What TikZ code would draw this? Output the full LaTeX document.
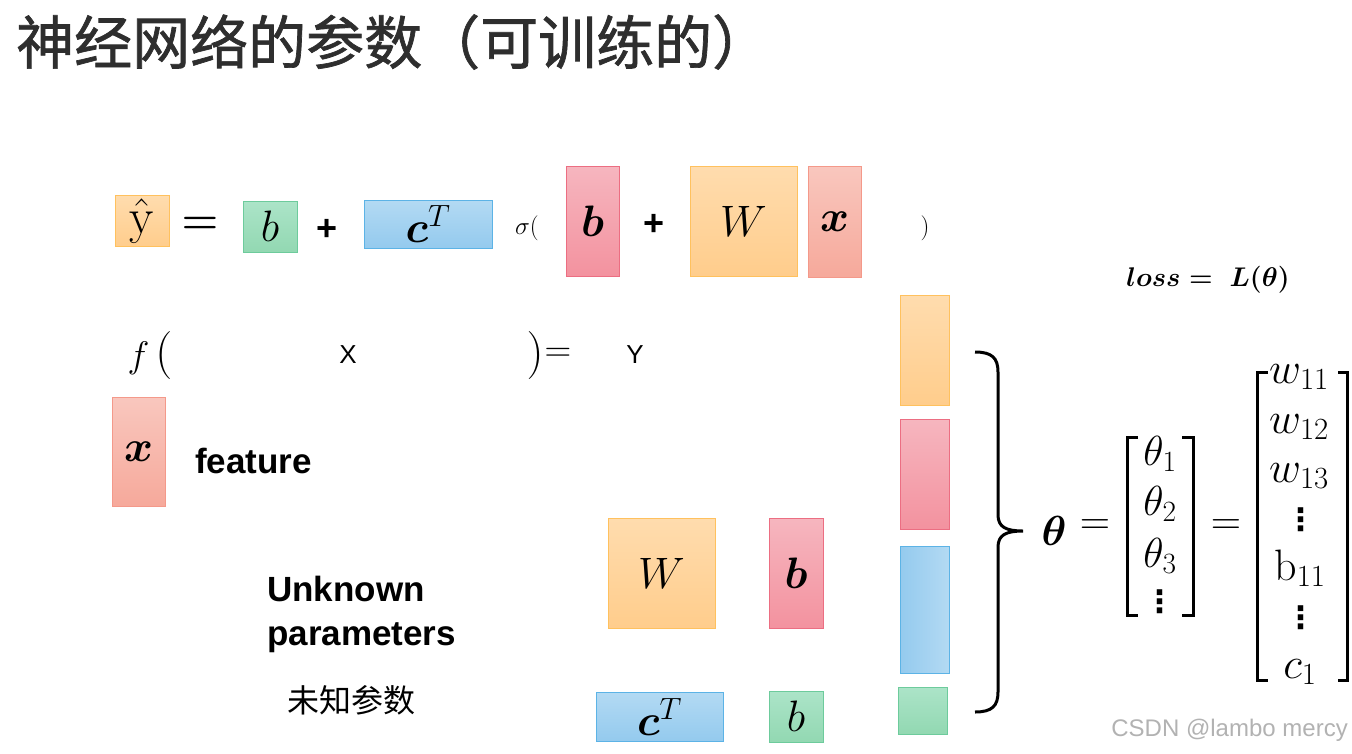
\RequirePackage{fix-cm}
\documentclass[tikz,border=0pt]{standalone}
\usepackage{amsmath,bm}
\usepackage{fontspec}
\newfontfamily\cjk{Noto Sans CJK SC}
\newfontfamily\cjktitle[FakeBold=1.2]{Noto Sans CJK SC}
\newfontfamily\arial{Liberation Sans}
\newfontfamily\dejavu{DejaVu Sans}
\newcommand\pxfont[1]{\fontsize{#1}{#1}\selectfont}
\newcommand\colvdots{{\dejavu\bfseries ⋮}}

\definecolor{orgTop}{HTML}{FFDCAE}
\definecolor{orgBot}{HTML}{FFCD8C}
\definecolor{orgLine}{HTML}{FFC15E}
\definecolor{grnTop}{HTML}{ACE4C8}
\definecolor{grnBot}{HTML}{92D8B2}
\definecolor{grnLine}{HTML}{6DCB9C}
\definecolor{bluTop}{HTML}{B3DAF3}
\definecolor{bluBot}{HTML}{94CAEE}
\definecolor{bluLine}{HTML}{5CB3E6}
\definecolor{redTop}{HTML}{F6B6BF}
\definecolor{redBot}{HTML}{F3929F}
\definecolor{redLine}{HTML}{EC6E82}
\definecolor{salTop}{HTML}{F9C7BE}
\definecolor{salBot}{HTML}{F6A99B}
\definecolor{salLine}{HTML}{F4998A}
\definecolor{titlegray}{HTML}{2E2E2E}

\tikzset{
  tile/.style={draw=#1Line, top color=#1Top, bottom color=#1Bot,
    line width=1pt, inner sep=0pt, font=\pxfont{44}},
  tileside/.style={draw=#1Line, left color=#1Bot, right color=#1Top,
    line width=1pt, inner sep=0pt},
  sym/.style={inner sep=0pt},
  bar/.style={line width=3pt, line cap=butt},
}

\begin{document}
\begin{tikzpicture}[x=1pt, y=-1pt]
  \useasboundingbox (0,0) rectangle (1352,753);

  \node[sym, anchor=west, font=\cjktitle\pxfont{58}, text=titlegray] (title) at (16,42) {神经网络的参数（可训练的）};

  % first line: yhat = b + c^T sigma( b + W x )
  \node[tile=org, minimum width=54, minimum height=51, font=\pxfont{50}] (yhat) at (142,221) {$\hat{\mathrm{y}}$};
  \node[sym, font=\pxfont{42}\boldmath] (eqa) at (200,225) {$=$};
  \node[tile=grn, minimum width=54, minimum height=51] (bout) at (270,226.5) {$b$};
  \node[sym, font=\arial\bfseries\pxfont{36}] (plusa) at (327,230) {+};
  \node[tile=blu, minimum width=128, minimum height=48] (cout) at (428,224) {$\boldsymbol{c}^T$};
  \node[sym, font=\pxfont{25}] (sigma) at (527,228) {$\sigma($};
  \node[tile=red, minimum width=53, minimum height=110] (bhid) at (592.5,221) {$\boldsymbol{b}$};
  \node[sym, font=\arial\bfseries\pxfont{36}] (plusb) at (654,225) {+};
  \node[tile=org, minimum width=107, minimum height=110] (Whid) at (743.5,221) {$W$};
  \node[tile=sal, minimum width=53, minimum height=111] (xin) at (834.5,221.5) {$\boldsymbol{x}$};
  \node[sym, font=\pxfont{25}] (rpar) at (925,228) {$)$};

  \node[sym, font=\pxfont{27}\boldmath] (loss) at (1208,280) {$loss =\ L(\theta)$};

  % f( X ) = Y
  \node[sym, font=\pxfont{37}] (fopen) at (150,355) {$f$\,{\pxfont{48}$($}};
  \node[sym, font=\arial\pxfont{26}] (X) at (348,355) {X};
  \node[sym, font=\pxfont{48}] (fclose) at (535,355) {$)$};
  \node[sym, font=\pxfont{37}] (feq) at (558,355) {$=$};
  \node[sym, font=\arial\pxfont{26}] (Y) at (635,355) {Y};

  \node[tile=sal, minimum width=53, minimum height=109] (xfeat) at (138.5,451.5) {$\boldsymbol{x}$};
  \node[sym, anchor=west, font=\arial\bfseries\pxfont{35}] (feature) at (195,461) {feature};

  \node[sym, anchor=north west, align=left, font=\arial\bfseries\fontsize{35}{44}\selectfont] (unknown) at (267,576) {Unknown\\parameters};
  \node[sym, font=\cjk\pxfont{32}] (weizhi) at (351,700) {未知参数};

  % unknown parameters
  \node[tile=org, minimum width=107, minimum height=110] (Wpar) at (661.5,573) {$W$};
  \node[tile=red, minimum width=54, minimum height=110] (bpar) at (796,573) {$\boldsymbol{b}$};
  \node[tile=blu, minimum width=127, minimum height=49] (cpar) at (659.5,716.5) {$\boldsymbol{c}^T$};
  \node[tile=grn, minimum width=54, minimum height=51] (bopar) at (796,716.5) {$b$};

  % stacked column
  \node[tile=org, minimum width=49, minimum height=110] (colW) at (924.5,350) {};
  \node[tile=red, minimum width=49, minimum height=110] (colb) at (924.5,474) {};
  \node[tileside=blu, minimum width=49, minimum height=127] (colc) at (924.5,609.5) {};
  \node[tile=grn, minimum width=49, minimum height=47] (colbo) at (922.5,710.5) {};

  \draw[line width=3pt] (975,352) .. controls (992,352) and (998,358) .. (998,372)
    -- (998,515) .. controls (998,527) and (1006,531) .. (1023,531)
    .. controls (1006,531) and (998,535) .. (998,547)
    -- (998,692) .. controls (998,706) and (992,712) .. (975,712);

  % theta vector
  \node[sym, font=\pxfont{42}] (theta) at (1054,531) {$\boldsymbol{\theta}$};
  \node[sym, font=\pxfont{42}] (eqb) at (1095,527) {$=$};
  \draw[bar] (1138,437) -- (1127,437) -- (1127,615) -- (1138,615);
  \draw[bar] (1182,437) -- (1193,437) -- (1193,615) -- (1182,615);
  \foreach \i/\yb in {1/465, 2/515, 3/567}
    \node[sym, anchor=base, font=\pxfont{42}] (th\i) at (1160,\yb) {$\theta_{\i}$};
  \node[sym, font=\pxfont{31}] (thdots) at (1160,602) {\colvdots};

  \node[sym, font=\pxfont{42}] (eqc) at (1226,527) {$=$};
  \draw[bar] (1268,372) -- (1257,372) -- (1257,680) -- (1268,680);
  \draw[bar] (1338,372) -- (1347,372) -- (1347,680) -- (1338,680);
  \foreach \j/\yb in {1/383, 2/433, 3/482}
    \node[sym, anchor=base, font=\pxfont{44}] (w1\j) at (1299,\yb) {$w_{1\j}$};
  \node[sym, font=\pxfont{31}] (wdots) at (1301,520) {\colvdots};
  \node[sym, anchor=base, font=\pxfont{44}] (b11) at (1300,580) {$\mathrm{b}_{11}$};
  \node[sym, font=\pxfont{31}] (bdots) at (1301,618) {\colvdots};
  \node[sym, anchor=base, font=\pxfont{44}] (c1) at (1300,678) {$c_1$};

  \node[sym, anchor=east, font=\arial\pxfont{24}, text=black!30] (mark) at (1348,730) {CSDN @lambo mercy};
\end{tikzpicture}
\end{document}
